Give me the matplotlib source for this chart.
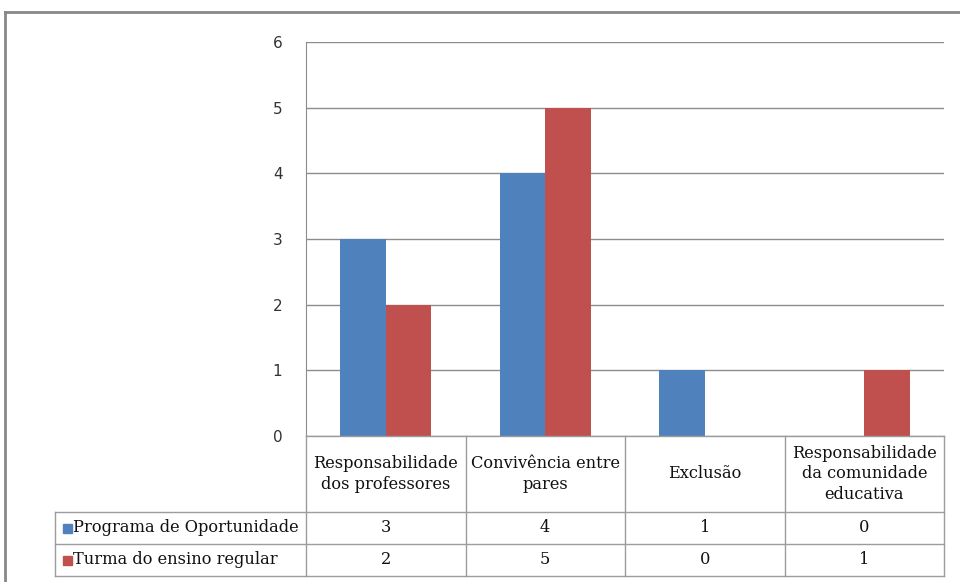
import matplotlib.pyplot as plt
import numpy as np
from matplotlib.lines import Line2D
from matplotlib.patches import Rectangle

categorias = ['Responsabilidade\ndos professores', 'Convivência entre\npares',
              'Exclusão', 'Responsabilidade\nda comunidade\neducativa']
series = ['Programa de Oportunidade', 'Turma do ensino regular']
programa = [3, 4, 1, 0]
turma = [2, 5, 0, 1]
cores = ['#4F81BD', '#C0504D']

W, H = 960, 582
fig = plt.figure(figsize=[W / 100, H / 100], dpi=100)

# plot area in pixels
px_l, px_r, px_t, px_b = 306, 944, 42, 436
ax = fig.add_axes([px_l / W, 1 - px_b / H, (px_r - px_l) / W, (px_b - px_t) / H])

x = np.arange(len(categorias))
bw = 0.285
ax.bar(x - bw / 2, programa, bw, color=cores[0], zorder=3)
ax.bar(x + bw / 2, turma, bw, color=cores[1], zorder=3)

ax.set_xlim(-0.5, len(categorias) - 0.5)
ax.set_ylim(0, 6)
ax.set_yticks(range(7))
ax.set_xticks([])
ax.yaxis.grid(True, color='#8c8c8c', linewidth=1.0, zorder=0)
ax.tick_params(axis='y', length=0, pad=17, labelsize=11, labelcolor='#333333')
for s in ['top', 'right', 'bottom']:
    ax.spines[s].set_visible(False)
ax.spines['left'].set_color('#8c8c8c')

# data table below the plot
fig.canvas.draw()
col_px = [ax.transData.transform((i - 0.5, 0))[0] for i in range(len(categorias) + 1)]
row_px = [px_b, px_b + 76, px_b + 108, px_b + 140]
lab_left = 55

def fx(p):
    return p / W

def fy(p):
    return 1 - p / H

lc = '#9c9c9c'
def hline(y, x0, x1):
    fig.add_artist(Line2D([fx(x0), fx(x1)], [fy(y), fy(y)], color=lc, lw=1.0))

def vline(xp, y0, y1):
    fig.add_artist(Line2D([fx(xp), fx(xp)], [fy(y0), fy(y1)], color=lc, lw=1.0))

hline(row_px[0], col_px[0], col_px[-1])
for r in row_px[1:]:
    hline(r, lab_left, col_px[-1])
for c in col_px:
    vline(c, row_px[0], row_px[-1])
vline(lab_left, row_px[1], row_px[-1])

tfont = dict(family='DejaVu Serif', fontsize=11.7, color='#111111')
for i, cat in enumerate(categorias):
    xc = (col_px[i] + col_px[i + 1]) / 2
    yc = (row_px[0] + row_px[1]) / 2
    fig.text(fx(xc), fy(yc), cat, ha='center', va='center', linespacing=1.25, **tfont)

for r, (nome, vals) in enumerate(zip(series, [programa, turma])):
    yc = (row_px[r + 1] + row_px[r + 2]) / 2
    fig.add_artist(Rectangle((fx(63), fy(yc + 4.5)), 9 / W, 9 / H,
                             transform=fig.transFigure, color=cores[r]))
    fig.text(fx(73), fy(yc), nome, ha='left', va='center', **tfont)
    for i, v in enumerate(vals):
        xc = (col_px[i] + col_px[i + 1]) / 2
        fig.text(fx(xc), fy(yc), str(v), ha='center', va='center', **tfont)

# outer chart frame
fig.add_artist(Line2D([fx(5), fx(W)], [fy(12), fy(12)], color='#888888', lw=2))
fig.add_artist(Line2D([fx(5), fx(5)], [fy(12), fy(H)], color='#888888', lw=2))

fig.savefig('out.png', dpi=100)
